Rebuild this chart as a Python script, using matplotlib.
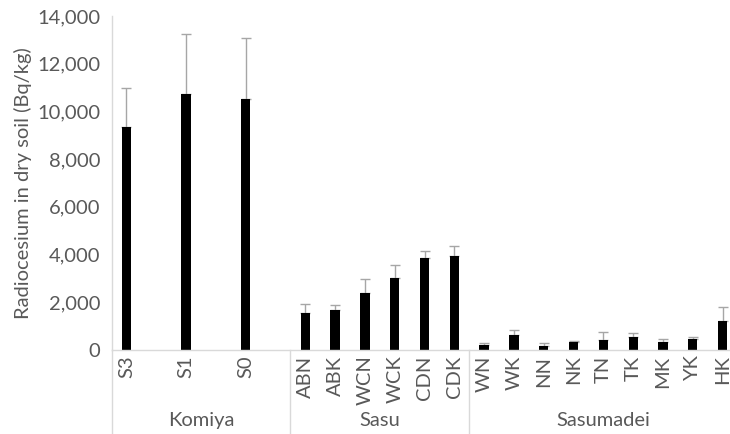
import numpy as np
import matplotlib
matplotlib.use("Agg")
import matplotlib.pyplot as plt

# sites in plotting order; blanks are spacer slots in the Komiya group
sites = ["S3", "", "S1", "", "S0", "",
         "ABN", "ABK", "WCN", "WCK", "CDN", "CDK",
         "WN", "WK", "NN", "NK", "TN", "TK", "MK", "YK", "HK"]
cs = [9350, np.nan, 10710, np.nan, 10530, np.nan,
      1540, 1680, 2380, 3010, 3850, 3950,
      210, 630, 170, 320, 420, 530, 350, 460, 1230]
cs_sd = [1640, np.nan, 2540, np.nan, 2530, np.nan,
         390, 210, 590, 570, 320, 420,
         100, 210, 140, 40, 350, 200, 110, 100, 560]
groups = ["Komiya", "Sasu", "Sasumadei"]
group_sizes = [6, 6, 9]

plt.rcParams['font.family'] = ['Lato', 'DejaVu Sans']
txt = '#595959'
line_c = '#d9d9d9'
fs = 14.5

fig = plt.figure(figsize=(7.30, 4.34), dpi=100)
ax = fig.add_axes([111.5 / 730, 84 / 434, 626 / 730, 334 / 434])

x = np.arange(len(sites))
vals = np.array(cs, dtype=float)
sd = np.array(cs_sd, dtype=float)
ax.bar(x, vals, width=0.31, color='black', zorder=2)
ax.errorbar(x, vals, yerr=[np.zeros_like(sd), sd], fmt='none',
            ecolor='#a6a6a6', elinewidth=1, capsize=3.5, capthick=1, zorder=1)

ax.set_xlim(-0.5, len(sites) - 0.5)
ax.set_ylim(0, 14000)
ax.set_yticks(range(0, 14001, 2000))
ax.set_yticklabels([f"{v:,}" for v in range(0, 14001, 2000)])
ax.set_xticks(x)
ax.set_xticklabels(sites, rotation=90, va='top')
ax.tick_params(axis='both', length=0, labelsize=fs, colors=txt)
ax.tick_params(axis='y', pad=8)
ax.tick_params(axis='x', pad=4)

for s in ['top', 'right']:
    ax.spines[s].set_visible(False)
for s in ['left', 'bottom']:
    ax.spines[s].set_color(line_c)
    ax.spines[s].set_linewidth(1)

ax.set_ylabel("Radiocesium in dry soil (Bq/kg)", fontsize=fs, color=txt, labelpad=4)

# group separators and group names under the tick labels
trans = ax.get_xaxis_transform()
edge = -0.5
for name, n in zip(groups, group_sizes):
    ax.plot([edge, edge], [0, -0.26], color=line_c, lw=1, transform=trans, clip_on=False)
    ax.text(edge + n / 2, -0.21, name, transform=trans, ha='center', va='center',
            fontsize=fs, color=txt)
    edge += n
ax.plot([edge, edge], [0, -0.26], color=line_c, lw=1, transform=trans, clip_on=False)

fig.savefig("out.png", dpi=100)
